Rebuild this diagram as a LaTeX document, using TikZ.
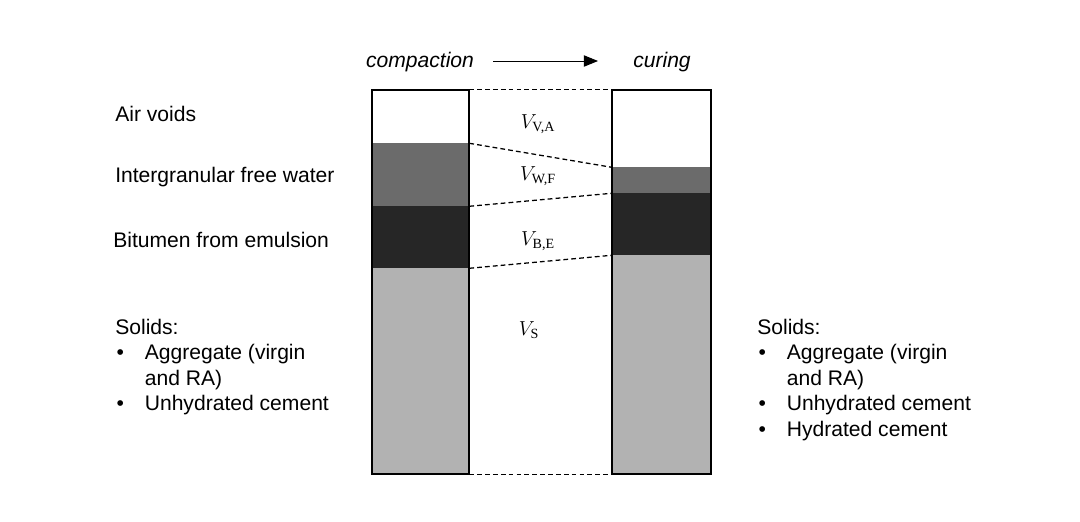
\documentclass[tikz,border=0pt]{standalone}
\usepackage{fontspec}
\setmainfont{Liberation Sans}
\newfontfamily\vfont{Liberation Serif}
\usepackage{tikz}
\usetikzlibrary{fit}
\usetikzlibrary{positioning}
\usetikzlibrary{arrows.meta}
\newcommand\vsym[1]{$V_{\mbox{\vfont\fontsize{10pt}{11pt}\selectfont #1}}$}

\begin{document}
\begin{tikzpicture}[
  x=0.025cm, y=-0.025cm,
  font=\fontsize{15pt}{18.2pt}\selectfont
]
\tikzset{
    layer/.style = {inner sep=0pt, draw=none},
    airfill/.style = {fill=white},
    waterfill/.style = {fill=black!58},
    bitfill/.style = {fill=black!85},
    solidfill/.style = {fill=black!30},
    column/.style = {draw=black, line width=1.2pt},
    link/.style = {line width=0.9pt, dash pattern=on 3.4pt off 2.2pt},
    vlabel/.style = {font=\fontsize{15pt}{17pt}\selectfont},
    sidetext/.style = {anchor=west, align=left, inner sep=0pt}
}
\useasboundingbox (0,0) rectangle (1080,521);
% left column (after compaction)
\node[layer, airfill, fit={(372,90) (469,143)}] (LA) {};
\node[layer, waterfill, fit={(372,143) (469,206)}] (LW) {};
\node[layer, bitfill, fit={(372,206) (469,268)}] (LB) {};
\node[layer, solidfill, fit={(372,268) (469,474)}] (LS) {};
\draw[column] (LA.north west) rectangle (LS.south east);
% right column (after curing)
\node[layer, airfill, fit={(612,90) (711,167)}] (RA) {};
\node[layer, waterfill, fit={(612,167) (711,193)}] (RW) {};
\node[layer, bitfill, fit={(612,193) (711,255)}] (RB) {};
\node[layer, solidfill, fit={(612,255) (711,474)}] (RS) {};
\draw[column] (RA.north west) rectangle (RS.south east);
% dashed boundaries
\draw[link] (LA.north east) -- (RA.north west);
\draw[link] (LA.south east) -- (RA.south west);
\draw[link] (LW.south east) -- (RW.south west);
\draw[link] (LB.south east) -- (RB.south west);
\draw[link] (LS.south east) -- (RS.south west);
% volume labels
\node[vlabel] (VA) at (538,124) {\vsym{V,A}};
\node[vlabel] (VW) at (538,176) {\vsym{W,F}};
\node[vlabel] (VB) at (538,241) {\vsym{B,E}};
\node[vlabel] (VS) at (529,330) {\vsym{S}};
% header
\node (comp) at (420,62) {\itshape compaction};
\node (cure) at (662,62) {\itshape curing};
\coordinate (arrS) at (493,61);
\coordinate (arrE) at (598,61);
\draw[line width=0.7pt, -{Triangle[length=10pt, width=8pt]}] (arrS) -- (arrE);
% left texts
\node[sidetext] (air) at (115,114) {Air voids};
\node[sidetext] (water) at (115,177) {Intergranular free water};
\node[sidetext] (bit) at (113,240) {Bitumen from emulsion};
\node[sidetext, anchor=base west] (solL) at (115,334) {%
  \begin{tabular}[t]{@{}p{21pt}@{}l@{}}
  \multicolumn{2}{@{}l}{Solids:}\\
  \hspace{1pt}\textbullet & Aggregate (virgin\\
   & and RA)\\
  \hspace{1pt}\textbullet & Unhydrated cement
  \end{tabular}};
% right texts
\node[sidetext, anchor=base west] (solR) at (757,334) {%
  \begin{tabular}[t]{@{}p{21pt}@{}l@{}}
  \multicolumn{2}{@{}l}{Solids:}\\
  \hspace{1pt}\textbullet & Aggregate (virgin\\
   & and RA)\\
  \hspace{1pt}\textbullet & Unhydrated cement\\
  \hspace{1pt}\textbullet & Hydrated cement
  \end{tabular}};
\end{tikzpicture}
\end{document}
